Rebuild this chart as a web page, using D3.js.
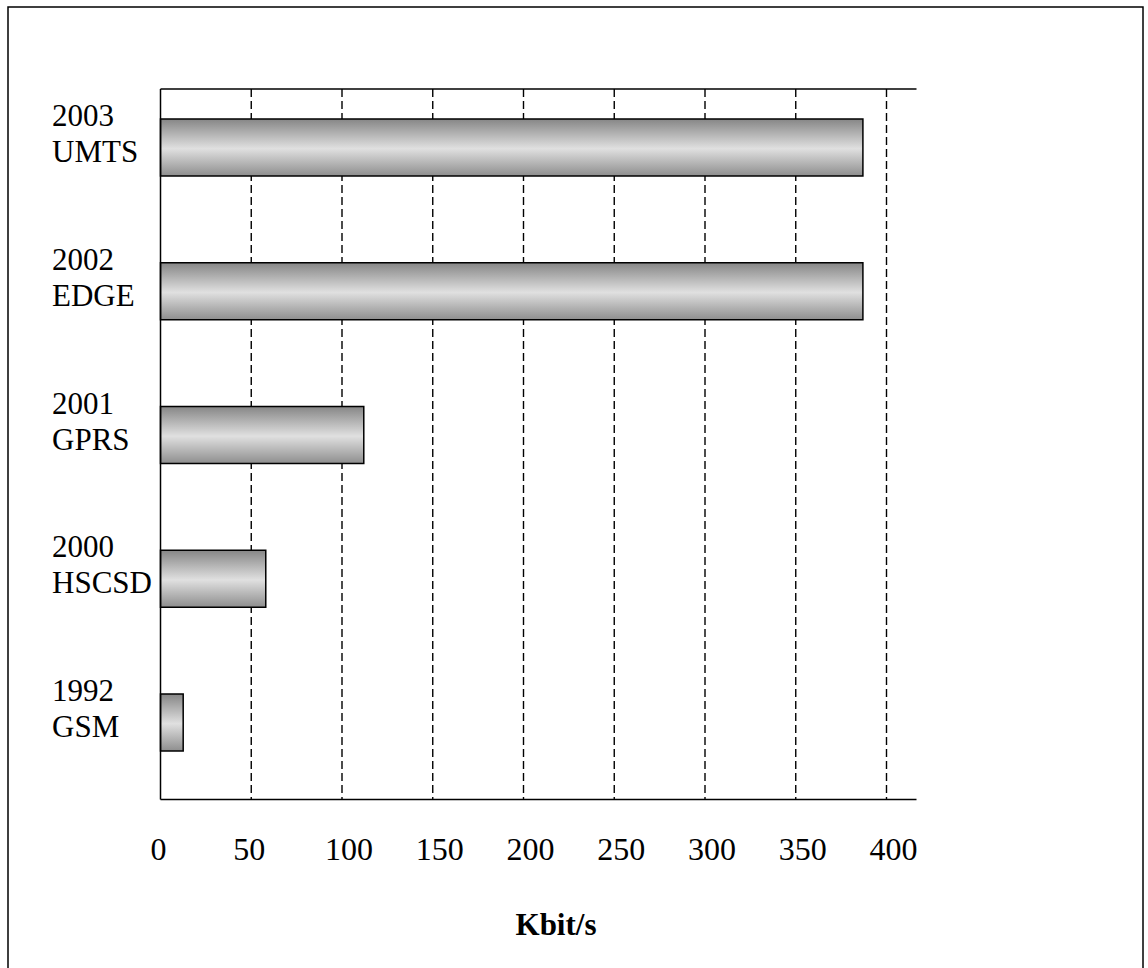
<!DOCTYPE html>
<html>
<head>
<meta charset="utf-8">
<script src="https://cdn.jsdelivr.net/npm/d3@7"></script>
<style>
  html, body { margin: 0; padding: 0; background: #fff; }
  svg { display: block; }
</style>
</head>
<body>
<script>
// ---- data ----
const years = ["2003", "2002", "2001", "2000", "1992"];
const systems = ["UMTS", "EDGE", "GPRS", "HSCSD", "GSM"];
const speeds = [387, 387, 112, 58, 12.5];
const xTicks = [0, 50, 100, 150, 200, 250, 300, 350, 400];
const xTitle = "Kbit/s";

const W = 1148, H = 968;
const svg = d3.select("body").append("svg").attr("width", W).attr("height", H);

const defs = svg.append("defs");
const grad = defs.append("linearGradient").attr("id", "barGrad")
  .attr("x1", 0).attr("y1", 0).attr("x2", 0).attr("y2", 1);
grad.append("stop").attr("offset", "0%").attr("stop-color", "#868686");
grad.append("stop").attr("offset", "52%").attr("stop-color", "#e0e0e0");
grad.append("stop").attr("offset", "100%").attr("stop-color", "#8e8e8e");

// outer frame (bottom edge lies outside the image)
svg.append("rect").attr("x", 8).attr("y", 7).attr("width", 1135).attr("height", 975)
  .attr("fill", "none").attr("stroke", "#000").attr("stroke-width", 1.5);

const plotTop = 89, plotBottom = 799.5, axisLeft = 160.5, axisRight = 916.5;

const x = d3.scaleLinear().domain([0, 400]).range([axisLeft, 886.5]);
const y = d3.scaleBand().domain(systems).range([plotTop, 781])
  .paddingInner(0.6035).paddingOuter(0.2087);

const font = "'Liberation Serif', 'Times New Roman', serif";

// grid lines (dashed)
svg.append("g").selectAll("line").data(xTicks.filter(d => d > 0)).join("line")
  .attr("x1", d => x(d)).attr("x2", d => x(d))
  .attr("y1", plotTop).attr("y2", plotBottom)
  .attr("stroke", "#000").attr("stroke-width", 1.4)
  .attr("stroke-dasharray", "8,4");

// top and bottom lines
[plotTop, plotBottom].forEach(yy => {
  svg.append("line").attr("x1", axisLeft).attr("x2", axisRight)
    .attr("y1", yy).attr("y2", yy).attr("stroke", "#000").attr("stroke-width", 1.5);
});

// bars
svg.append("g").selectAll("rect").data(systems).join("rect")
  .attr("x", x(0))
  .attr("y", d => y(d))
  .attr("width", (d, i) => x(speeds[i]) - x(0))
  .attr("height", y.bandwidth())
  .attr("fill", "url(#barGrad)")
  .attr("stroke", "#000").attr("stroke-width", 1.5);

// left axis line
svg.append("line").attr("x1", axisLeft).attr("x2", axisLeft)
  .attr("y1", plotTop).attr("y2", plotBottom).attr("stroke", "#000").attr("stroke-width", 1.5);

// category labels
const lab = svg.append("g").attr("font-family", font).attr("font-size", 31).attr("fill", "#000");
systems.forEach((s, i) => {
  const t = lab.append("text").attr("x", 52).attr("y", y(s) + 7);
  t.append("tspan").attr("x", 52).text(years[i]);
  t.append("tspan").attr("x", 52).attr("dy", 36).text(s);
});

// x tick labels
svg.append("g").selectAll("text").data(xTicks).join("text")
  .attr("x", d => x(d) + (d >= 100 ? 7 : -2)).attr("y", 860)
  .attr("text-anchor", "middle")
  .attr("font-family", font).attr("font-size", 32)
  .text(d => d);

// axis title
svg.append("text").attr("x", 556).attr("y", 935)
  .attr("text-anchor", "middle")
  .attr("font-family", font).attr("font-size", 31).attr("font-weight", "bold")
  .text(xTitle);
</script>
</body>
</html>
